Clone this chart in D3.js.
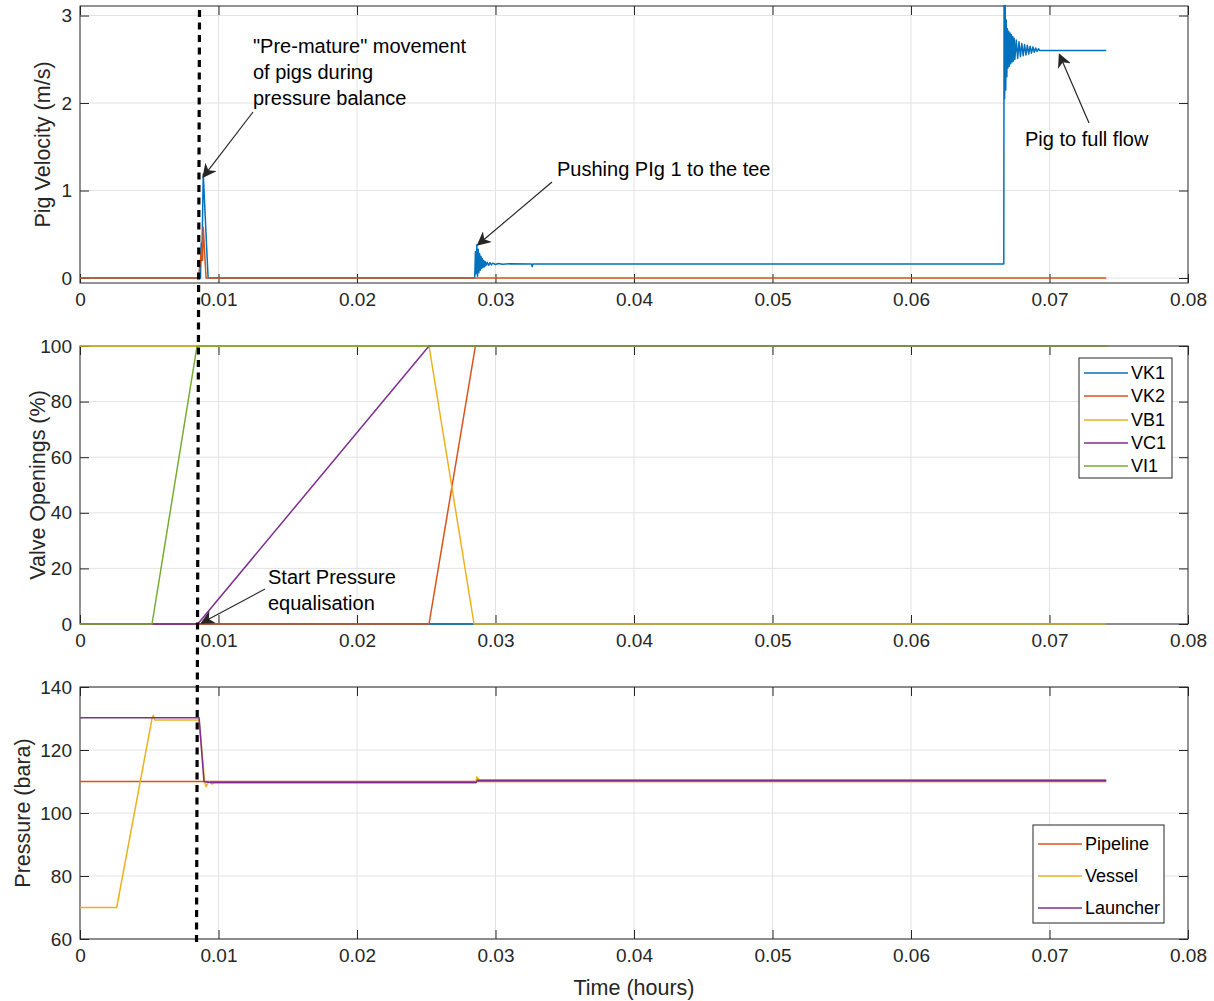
<!DOCTYPE html>
<html>
<head>
<meta charset="utf-8">
<script src="https://cdn.jsdelivr.net/npm/d3@7"></script>
<style>
  body { margin: 0; background: #fff; }
  svg { font-family: "Liberation Sans", Arial, sans-serif; }
  .tick text { fill: #262626; }
</style>
</head>
<body>
<div id="chart"></div>
<script>
// ---- data ----
var timeTicks = [0, 0.01, 0.02, 0.03, 0.04, 0.05, 0.06, 0.07, 0.08];

// Pig velocities [time (h), m/s]
var pig1Velocity = [
  [0, 0], [0.0087, 0], [0.00875, 0.4], [0.0088, 0.2], [0.0089, 1.19], [0.0091, 0.5], [0.00925, 0],
  [0.0285, 0], [0.02855, 0.3], [0.0286, 0.05], [0.02865, 0.38], [0.0287, 0.02], [0.02875, 0.33],
  [0.0288, 0.06], [0.02885, 0.28], [0.0289, 0.09], [0.02895, 0.25], [0.029, 0.11], [0.02905, 0.22],
  [0.0291, 0.12], [0.02915, 0.2], [0.0292, 0.13], [0.02925, 0.19], [0.0293, 0.14], [0.0294, 0.18],
  [0.0295, 0.145], [0.0296, 0.175], [0.0297, 0.15], [0.0298, 0.17], [0.03, 0.155], [0.0302, 0.165],
  [0.0305, 0.158], [0.031, 0.162], [0.0326, 0.16], [0.03265, 0.13], [0.0327, 0.16],
  [0.0667, 0.16], [0.06672, 3.3], [0.06676, 2.05], [0.0668, 3.15], [0.06684, 2.15], [0.06688, 2.95],
  [0.06692, 2.3], [0.06696, 2.85], [0.067, 2.4], [0.06705, 2.82], [0.0671, 2.42], [0.06715, 2.8],
  [0.0672, 2.45], [0.06725, 2.78], [0.0673, 2.47], [0.06735, 2.76], [0.0674, 2.48], [0.06745, 2.74],
  [0.0675, 2.5], [0.0676, 2.72], [0.0677, 2.51], [0.0678, 2.7], [0.0679, 2.53], [0.068, 2.68],
  [0.0681, 2.54], [0.0682, 2.67], [0.0683, 2.55], [0.0684, 2.66], [0.0685, 2.56], [0.0686, 2.65],
  [0.0687, 2.57], [0.0688, 2.64], [0.0689, 2.58], [0.069, 2.63], [0.0691, 2.59], [0.0692, 2.62],
  [0.0693, 2.6], [0.0741, 2.6]
];
var pig2Velocity = [
  [0, 0], [0.00855, 0], [0.0088, 0.35], [0.00885, 0.2], [0.0089, 0.58], [0.0091, 0], [0.0741, 0]
];

// Valve openings [time (h), %]
var valveNames = ["VK1", "VK2", "VB1", "VC1", "VI1"];
var vk1 = [[0, 0], [0.0741, 0]];
var vk2 = [[0, 0], [0.0252, 0], [0.02855, 100], [0.0741, 100]];
var vb1 = [[0, 100], [0.0252, 100], [0.02845, 0], [0.0741, 0]];
var vc1 = [[0, 0], [0.0085, 0], [0.0252, 100], [0.0741, 100]];
var vi1 = [[0, 0], [0.0052, 0], [0.00845, 100], [0.0741, 100]];

// Pressures [time (h), bara]
var pressureNames = ["Pipeline", "Vessel", "Launcher"];
var pipeline = [[0, 110], [0.0741, 110]];
var vessel = [
  [0, 70], [0.00265, 70], [0.0052, 130], [0.0053, 131], [0.0054, 129.5], [0.0086, 129.5],
  [0.009, 110], [0.0091, 108.4], [0.0093, 110], [0.00955, 109.2], [0.0097, 109.6], [0.0286, 109.6],
  [0.02865, 111.5], [0.0287, 110.2], [0.02875, 111], [0.0288, 110.4], [0.0741, 110.4]
];
var launcher = [
  [0, 130.2], [0.0086, 130.2], [0.00895, 110], [0.0094, 109.7], [0.0286, 109.7], [0.0287, 110.4],
  [0.0741, 110.4]
];

// MATLAB default colour order
var colors = ["#0072BD", "#D95319", "#EDB120", "#7E2F8E", "#77AC30"];

// ---- layout ----
var svgWidth = 1214;
var svgHeight = 1001;
var left = 80, right = 1188;
var textColor = "#262626";

var svg = d3.select("#chart").append("svg")
  .attr("width", svgWidth)
  .attr("height", svgHeight);

var defs = svg.append("defs");
defs.append("marker")
  .attr("id", "arrowhead")
  .attr("viewBox", "0 0 10 10")
  .attr("refX", 9).attr("refY", 5)
  .attr("markerWidth", 14).attr("markerHeight", 14)
  .attr("markerUnits", "userSpaceOnUse")
  .attr("orient", "auto")
  .append("path")
  .attr("d", "M0,0 L10,5 L0,10 L3,5 Z")
  .attr("fill", textColor);

var x = d3.scaleLinear().domain([0, 0.08]).range([left, right]);

// draws one panel: grid, box, ticks on all sides, labels, then lines on top
function drawPanel(id, top, bottom, yDomain, yTicks, yLabel, yLabelX, series, seriesColors) {
  var y = d3.scaleLinear().domain(yDomain).range([bottom, top]);
  var g = svg.append("g");

  defs.append("clipPath").attr("id", "clip-" + id)
    .append("rect")
    .attr("x", left).attr("y", top - 1)
    .attr("width", right - left).attr("height", bottom - top + 2);

  // grid
  g.append("g").selectAll("line").data(timeTicks.slice(1, -1)).enter().append("line")
    .attr("x1", d => x(d)).attr("x2", d => x(d))
    .attr("y1", top).attr("y2", bottom)
    .attr("stroke", "#e3e3e3").attr("stroke-width", 1);
  g.append("g").selectAll("line").data(yTicks).enter().append("line")
    .attr("x1", left).attr("x2", right)
    .attr("y1", d => y(d)).attr("y2", d => y(d))
    .attr("stroke", "#e3e3e3").attr("stroke-width", 1);

  // axes (ticks inward on all four sides)
  var tickLen = 9;
  var bottomAxis = d3.axisBottom(x).tickValues(timeTicks).tickSize(-tickLen).tickPadding(10)
    .tickFormat(d => d === 0 ? "0" : d3.format(".2f")(d));
  var topAxis = d3.axisTop(x).tickValues(timeTicks).tickSize(-tickLen).tickFormat("");
  var leftAxis = d3.axisLeft(y).tickValues(yTicks).tickSize(-tickLen).tickPadding(8)
    .tickFormat(d3.format("d"));
  var rightAxis = d3.axisRight(y).tickValues(yTicks).tickSize(-tickLen).tickFormat("");

  [
    [bottomAxis, `translate(0,${bottom})`],
    [topAxis, `translate(0,${top})`],
    [leftAxis, `translate(${left},0)`],
    [rightAxis, `translate(${right},0)`]
  ].forEach(function(a) {
    var ax = g.append("g").attr("transform", a[1]).call(a[0]);
    ax.select(".domain").remove();
    ax.selectAll("line").attr("stroke", textColor);
    ax.selectAll("text").attr("font-size", 19).attr("fill", textColor)
      .attr("font-family", "'Liberation Sans', Arial, sans-serif");
  });

  // box
  g.append("rect")
    .attr("x", left).attr("y", top)
    .attr("width", right - left).attr("height", bottom - top)
    .attr("fill", "none").attr("stroke", textColor).attr("stroke-width", 1);

  // data lines
  var line = d3.line().x(d => x(d[0])).y(d => y(d[1]));
  g.append("g").attr("clip-path", "url(#clip-" + id + ")")
    .selectAll("path").data(series).enter().append("path")
    .attr("d", d => line(d))
    .attr("fill", "none")
    .attr("stroke", (d, i) => seriesColors[i])
    .attr("stroke-width", 1.5)
    .attr("stroke-linejoin", "round");

  // y label
  g.append("text")
    .attr("transform", `translate(${yLabelX},${(top + bottom) / 2}) rotate(-90)`)
    .attr("text-anchor", "middle")
    .attr("dy", "0.35em")
    .attr("font-size", 21.5)
    .attr("fill", textColor)
    .text(yLabel);

  return y;
}

function drawLegend(names, seriesColors, bx, by, bw, bh, rowY) {
  var lg = svg.append("g");
  lg.append("rect").attr("x", bx).attr("y", by).attr("width", bw).attr("height", bh)
    .attr("fill", "#fff").attr("stroke", "#262626").attr("stroke-width", 1);
  names.forEach(function(n, i) {
    var yy = by + rowY[i];
    lg.append("line").attr("x1", bx + 5).attr("x2", bx + 49).attr("y1", yy).attr("y2", yy)
      .attr("stroke", seriesColors[i]).attr("stroke-width", 1.5);
    lg.append("text").attr("x", bx + 52).attr("y", yy).attr("dy", "0.35em")
      .attr("font-size", 18).attr("fill", "#000").text(n);
  });
}

var yVel = drawPanel("vel", 6, 283, [-0.057, 3.109], [0, 1, 2, 3], "Pig Velocity (m/s)", 42,
  [pig1Velocity, pig2Velocity], [colors[0], colors[1]]);

var yValve = drawPanel("valve", 346, 624, [0, 100], [0, 20, 40, 60, 80, 100], "Valve Openings (%)", 37,
  [vk1, vk2, vb1, vc1, vi1], colors);

var yPress = drawPanel("press", 687, 939, [60, 140], [60, 80, 100, 120, 140], "Pressure (bara)", 22,
  [pipeline, vessel, launcher], [colors[1], colors[2], colors[3]]);

// x label
svg.append("text")
  .attr("x", (left + right) / 2).attr("y", 987)
  .attr("text-anchor", "middle").attr("dy", "0.35em")
  .attr("font-size", 21.5).attr("fill", textColor)
  .text("Time (hours)");

drawLegend(valveNames, colors, 1079, 358, 93, 120, [15, 38, 62, 85, 108]);
drawLegend(pressureNames, [colors[1], colors[2], colors[3]], 1033, 825, 131, 98, [19, 51, 83]);

// ---- annotations ----
function arrow(x1, y1, x2, y2) {
  svg.append("line")
    .attr("x1", x1).attr("y1", y1).attr("x2", x2).attr("y2", y2)
    .attr("stroke", textColor).attr("stroke-width", 1.2)
    .attr("marker-end", "url(#arrowhead)");
}
function note(lines, tx, ty, lineGap) {
  lines.forEach(function(t, i) {
    svg.append("text").attr("x", tx).attr("y", ty + i * lineGap)
      .attr("font-size", 20).attr("fill", "#000").text(t);
  });
}

note(['"Pre-mature" movement', "of pigs during", "pressure balance"], 253, 53, 26);
arrow(253, 112, x(0.0089), yVel(1.19) + 3);

note(["Pushing PIg 1 to the tee"], 557, 176, 0);
arrow(552, 182, x(0.02865) + 1, yVel(0.38));

note(["Pig to full flow"], 1025, 146, 0);
arrow(1089, 123, x(0.0705) + 3, yVel(2.6) + 4);

note(["Start Pressure", "equalisation"], 268, 584, 26);
arrow(265, 589, x(0.0087) + 1, yValve(0) - 1);

// dashed marker line across all panels
svg.append("line")
  .attr("x1", 199.5).attr("y1", 10)
  .attr("x2", 196.5).attr("y2", 945)
  .attr("stroke", "#000").attr("stroke-width", 3.2)
  .attr("stroke-dasharray", "7,5.5");
</script>
</body>
</html>
